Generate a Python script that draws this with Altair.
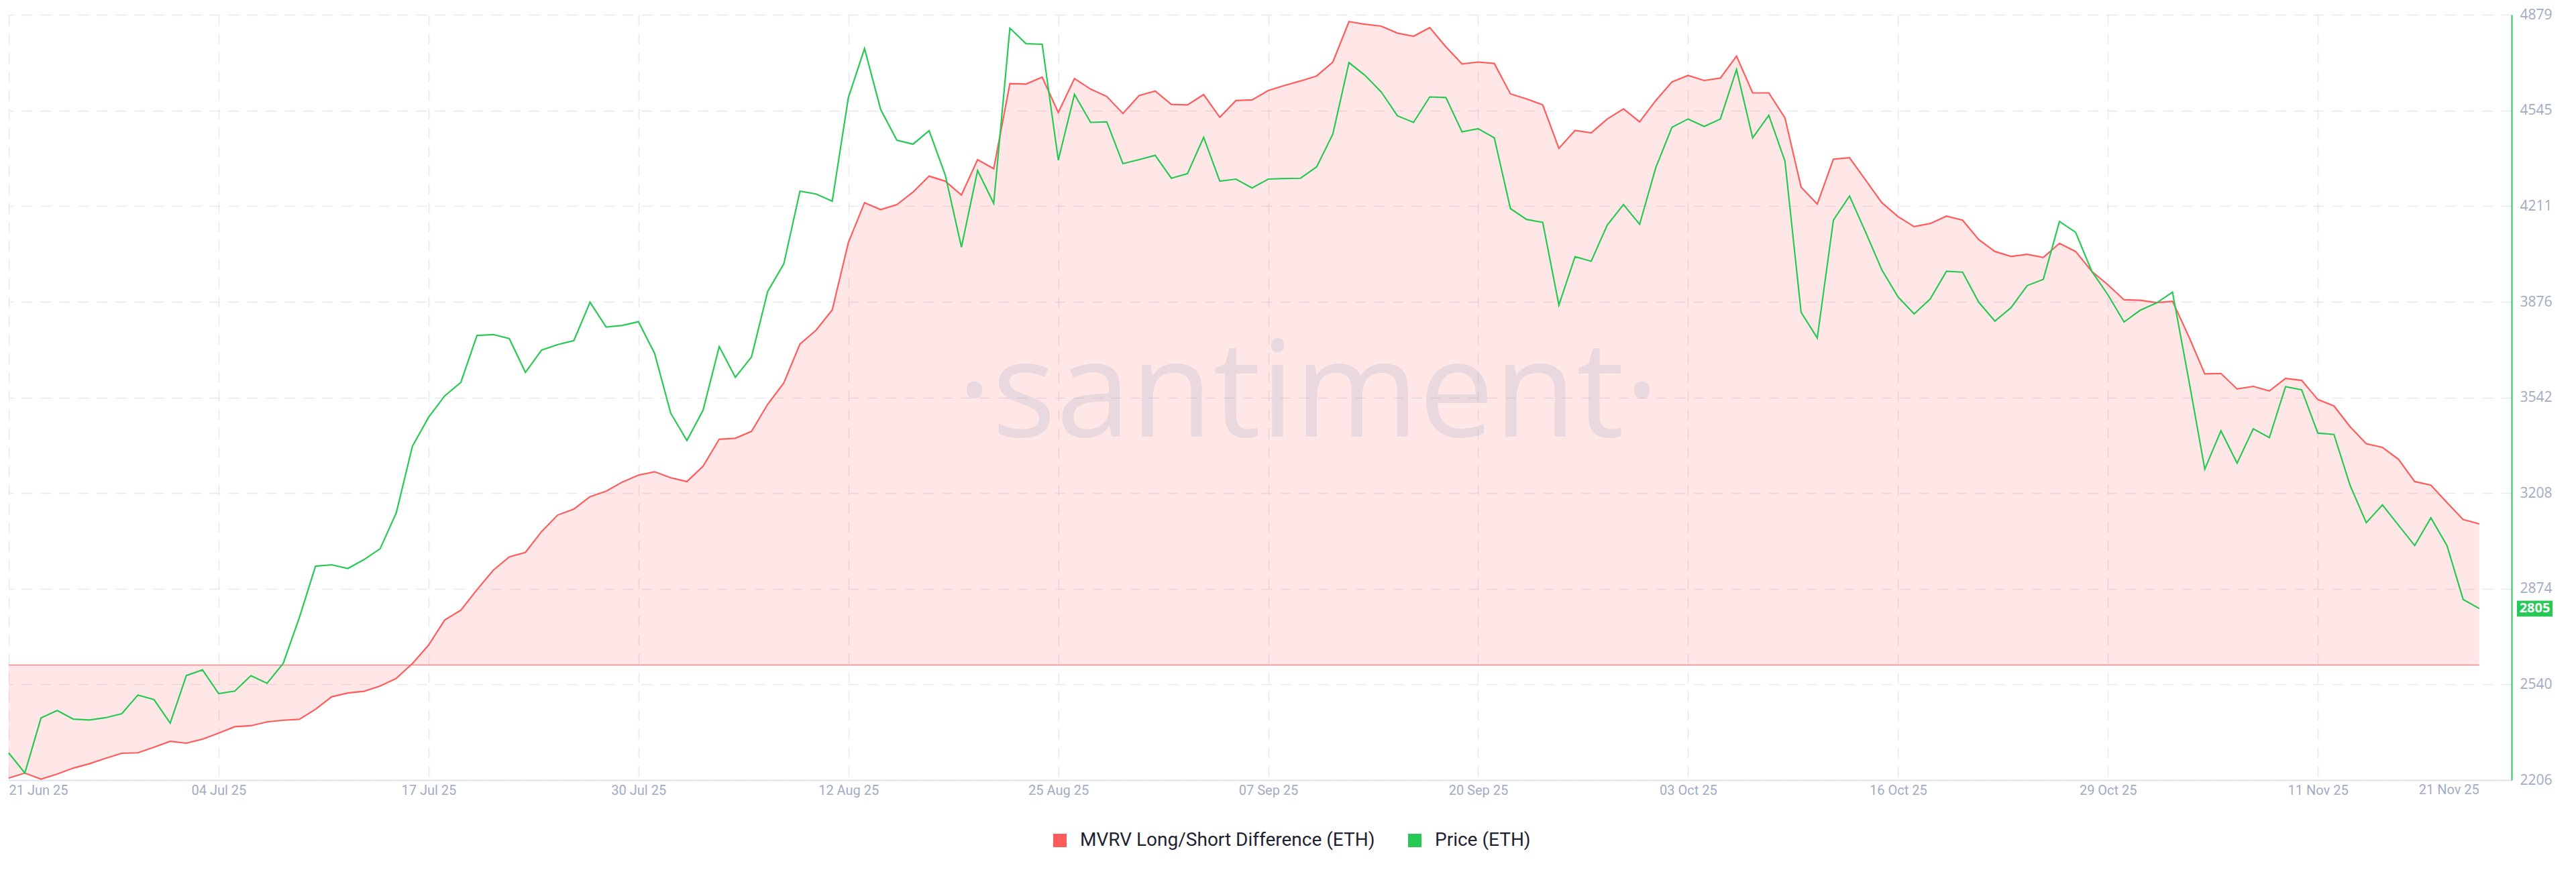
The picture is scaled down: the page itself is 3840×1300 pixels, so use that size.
import altair as alt
import pandas as pd

# ---------------- data ----------------
start_date = "2025-06-21"

price = [
    2301, 2231, 2423, 2449, 2419, 2416, 2424, 2438, 2503, 2487,
    2405, 2571, 2591, 2508, 2517, 2571, 2544, 2614, 2774, 2953,
    2958, 2945, 2976, 3014, 3139, 3372, 3473, 3548, 3595, 3759,
    3762, 3748, 3630, 3708, 3727, 3741, 3875, 3788, 3794, 3807,
    3696, 3487, 3392, 3498, 3720, 3613, 3684, 3912, 4009, 4263,
    4253, 4228, 4590, 4761, 4548, 4441, 4427, 4474, 4319, 4067,
    4335, 4220, 4832, 4778, 4776, 4371, 4601, 4503, 4505, 4359,
    4373, 4388, 4308, 4324, 4451, 4298, 4305, 4274, 4305, 4307,
    4308, 4348, 4462, 4712, 4667, 4609, 4526, 4503, 4592, 4590,
    4470, 4481, 4449, 4202, 4164, 4154, 3865, 4034, 4018, 4145,
    4216, 4147, 4345, 4486, 4515, 4489, 4515, 4688, 4449, 4528,
    4368, 3840, 3750, 4162, 4246, 4119, 3988, 3894, 3834, 3887,
    3983, 3980, 3875, 3809, 3856, 3933, 3955, 4157, 4119, 3983,
    3901, 3806, 3847, 3872, 3910, 3606, 3292, 3426, 3313, 3433,
    3402, 3580, 3569, 3418, 3413, 3235, 3105, 3167, 3096, 3025,
    3122, 3025, 2837, 2805,
]

mvrv = [
    -4.73, -4.52, -4.77, -4.56, -4.31, -4.13, -3.90, -3.69, -3.67, -3.44,
    -3.19, -3.27, -3.10, -2.85, -2.58, -2.54, -2.38, -2.31, -2.27, -1.85,
    -1.33, -1.17, -1.10, -0.88, -0.56, 0.06, 0.83, 1.88, 2.29, 3.15,
    3.96, 4.52, 4.71, 5.58, 6.27, 6.52, 7.04, 7.27, 7.65, 7.94,
    8.08, 7.83, 7.67, 8.31, 9.44, 9.48, 9.77, 10.90, 11.79, 13.42,
    14.00, 14.85, 17.67, 19.33, 19.04, 19.25, 19.77, 20.44, 20.23, 19.65,
    21.13, 20.75, 24.31, 24.29, 24.58, 23.10, 24.52, 24.08, 23.77, 23.06,
    23.81, 24.00, 23.44, 23.42, 23.85, 22.90, 23.60, 23.63, 24.02, 24.23,
    24.42, 24.63, 25.21, 26.90, 26.79, 26.71, 26.42, 26.29, 26.65, 25.85,
    25.13, 25.21, 25.15, 23.88, 23.67, 23.42, 21.60, 22.35, 22.25, 22.83,
    23.25, 22.71, 23.60, 24.38, 24.65, 24.44, 24.54, 25.46, 23.92, 23.92,
    22.88, 19.98, 19.27, 21.15, 21.21, 20.27, 19.33, 18.75, 18.33, 18.46,
    18.77, 18.60, 17.79, 17.29, 17.08, 17.17, 17.04, 17.63, 17.29, 16.46,
    15.90, 15.27, 15.25, 15.15, 15.21, 13.75, 12.17, 12.19, 11.54, 11.65,
    11.46, 11.98, 11.90, 11.10, 10.83, 9.96, 9.25, 9.10, 8.60, 7.67,
    7.52, 6.79, 6.08, 5.90,
]

series_names = ["MVRV Long/Short Difference (ETH)", "Price (ETH)"]
price_ticks = [2206, 2540, 2874, 3208, 3542, 3876, 4211, 4545, 4879]
x_tick_dates = pd.date_range(start_date, periods=12, freq="13D")
end_label = "21 Nov 25"
watermark_text = "\u00b7santiment\u00b7"

dates = pd.date_range(start_date, periods=len(price), freq="D")
df = pd.DataFrame({"date": dates, "mvrv": mvrv, "price": price})
df["zero"] = 0.0

# ---------------- styling ----------------
W, H = 3731, 1141
RED = "#ff5b5b"
GREEN = "#26c953"
GRID = "#e6e8f1"
LABEL = "#a2abc3"

xscale = alt.Scale(domain=[alt.DateTime(year=2025, month=6, date=21),
                           alt.DateTime(year=2025, month=11, date=23)])
xaxis = alt.Axis(
    values=[alt.DateTime(year=d.year, month=d.month, date=d.day) for d in x_tick_dates],
    format="%d %b %y", labelFlush=True, labelOverlap=False,
    labelFont="Roboto", labelFontSize=20, labelColor=LABEL, labelPadding=5,
    grid=True, gridDash=[16, 12], gridColor=GRID, gridWidth=1.5,
    domainColor="#e1e4ed", domainWidth=2, ticks=False, title=None,
)
X = alt.X("date:T", scale=xscale, axis=xaxis, title=None)

mv_scale = alt.Scale(domain=[-4.8125, 27.1875], nice=False, zero=False)
Ymv = alt.Y("mvrv:Q", scale=mv_scale, axis=None)
Yzero = alt.Y("zero:Q", scale=mv_scale, axis=None)
p_scale = alt.Scale(domain=[2206, 4879], nice=False, zero=False)
Yp = alt.Y(
    "price:Q",
    scale=p_scale,
    axis=alt.Axis(
        orient="right", values=price_ticks, format="d", grid=True,
        gridDash=[16, 12], gridColor=GRID, gridWidth=1.5,
        domainColor=GREEN, domainWidth=2, ticks=False,
        labelFont="Open Sans", labelFontSize=21, labelColor=LABEL,
        labelPadding=12, title=None,
    ),
)
Yp_noaxis = alt.Y("price:Q", scale=p_scale, axis=None)

color_scale = alt.Scale(domain=series_names, range=[RED, GREEN])
legend = alt.Legend(
    orient="none", legendX=1553, legendY=1217, direction="horizontal", title=None,
    symbolType="square", symbolSize=100, symbolStrokeWidth=10, symbolOpacity=1,
    labelFont="Roboto", labelFontSize=28, labelColor="#1f2233", labelOffset=16,
    labelLimit=1000, columnPadding=34,
)
C = alt.Color("series:N", scale=color_scale, legend=legend)

base = alt.Chart(df)

area = base.mark_area(color=RED, opacity=0.15).encode(x=X, y=Ymv, y2=alt.Y2("zero:Q"))
zero_line = base.mark_line(color="#ff8585", strokeWidth=1.5).encode(x=X, y=Yzero)
mark_wm = alt.Chart(pd.DataFrame({"t": [watermark_text]})).mark_text(
    font="Open Sans", fontSize=200, color="#b8b9c9", opacity=0.3,
    align="center", baseline="alphabetic",
).encode(x=alt.value(1937), y=alt.value(629), text="t:N")
red_line = base.transform_calculate(series=f"'{series_names[0]}'").mark_line(strokeWidth=2.2).encode(
    x=X, y=Ymv, color=C
)
end_lbl = alt.Chart(pd.DataFrame({"date": [dates[-1]], "label": [end_label]})).mark_text(
    align="right", baseline="top", font="Roboto", fontSize=20, color=LABEL,
).encode(x=X, y=alt.value(H + 5), text="label:N")

green_line = base.transform_calculate(series=f"'{series_names[1]}'").mark_line(strokeWidth=2.2).encode(
    x=X, y=Yp, color=C
)
last = alt.Chart(df.tail(1))
box = last.mark_point(
    shape="M-1,-0.45L1,-0.45L1,0.45L-1,0.45Z", size=2809, filled=True,
    opacity=1, color=GREEN,
).encode(x=alt.value(W + 34.5), y=Yp_noaxis)
box_txt = last.mark_text(
    color="white", font="Open Sans", fontSize=20, fontWeight="bold",
    align="center", baseline="middle",
).encode(x=alt.value(W + 34.5), y=Yp_noaxis, text=alt.Text("price:Q", format="d"))

chart = (
    alt.layer(area, zero_line, mark_wm, red_line, end_lbl, green_line, box, box_txt)
    .resolve_scale(y="independent")
    .properties(width=W, height=H, padding={"left": 0, "top": 3, "right": 5, "bottom": 5})
    .configure_view(stroke=None)
)

chart.save("out.html", embed_options={"renderer": "svg", "actions": False})
